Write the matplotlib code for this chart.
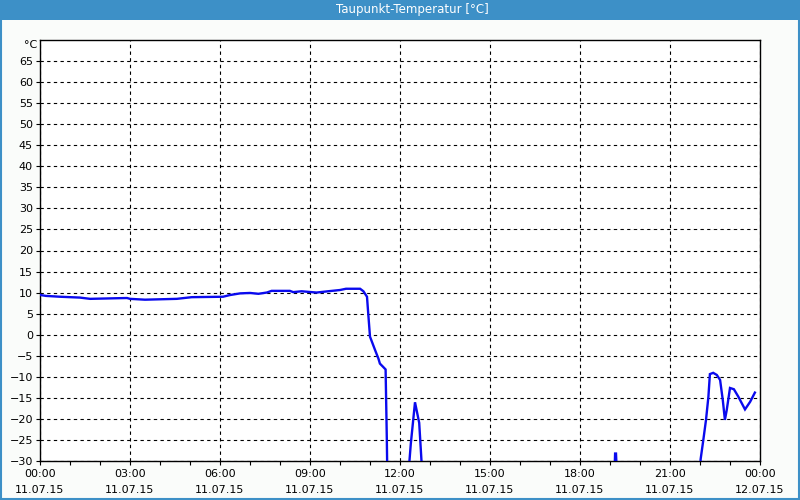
import matplotlib
matplotlib.use("Agg")
import matplotlib.pyplot as plt
from matplotlib.patches import Rectangle
import numpy as np

# ---- data (hours since 11.07.15 00:00, dew point in °C) ----
seg1_hours = [0.0, 0.02, 0.2, 0.67, 1.33, 1.67, 2.9, 3.0, 3.5, 4.56, 5.06, 6.1, 6.33, 6.67,
              7.0, 7.28, 7.56, 7.72, 8.33, 8.44, 8.72, 9.22, 9.6, 10.0, 10.2, 10.67, 10.78,
              10.9, 10.94, 11.0, 11.17, 11.28, 11.33, 11.44, 11.52, 11.56, 11.6, 12.0, 12.31,
              12.36, 12.5, 12.64, 12.72, 12.8, 15.0, 19.1, 19.17, 19.2, 19.3, 21.0, 22.0,
              22.02, 22.11, 22.2, 22.28, 22.33, 22.44, 22.56, 22.67, 22.76, 22.83, 22.89,
              23.0, 23.13, 23.28, 23.5, 23.67, 23.83]
seg1_values = [9.5, 9.4, 9.2, 9.0, 8.8, 8.5, 8.7, 8.5, 8.3, 8.5, 8.9, 9.0, 9.4, 9.8,
               9.9, 9.7, 10.0, 10.4, 10.4, 10.1, 10.3, 10.0, 10.3, 10.6, 10.9, 10.9, 10.3,
               9.0, 5.1, -0.5, -3.7, -5.7, -6.9, -7.7, -8.3, -24.6, -45, -50, -30.5,
               -26.0, -16.1, -21.0, -30.5, -45, -50, -45, -28.3, -28.3, -45, -50, -40,
               -29.7, -25.1, -20.3, -14.8, -9.4, -9.1, -9.6, -10.8, -15.6, -20.3, -18.0,
               -12.7, -13.0, -14.8, -17.8, -16.0, -13.8]

y_ticks = [-30, -25, -20, -15, -10, -5, 0, 5, 10, 15, 20, 25, 30, 35, 40, 45, 50, 55, 60, 65]
x_ticks = [0, 3, 6, 9, 12, 15, 18, 21, 24]
x_tick_labels = ["00:00\n11.07.15", "03:00\n11.07.15", "06:00\n11.07.15", "09:00\n11.07.15",
                 "12:00\n11.07.15", "15:00\n11.07.15", "18:00\n11.07.15", "21:00\n11.07.15",
                 "00:00\n12.07.15"]
x_minor = [h for h in range(25) if h % 3 != 0]
title = "Taupunkt-Temperatur [°C]"
unit = "°C"

bg = "#fafcfa"
bar = "#3d90c7"

fig = plt.figure(figsize=(8, 5), dpi=100, facecolor=bg)
# title bar and frame
fig.patches.append(Rectangle((0, 1 - 20/500), 1, 20/500, transform=fig.transFigure,
                             facecolor=bar, edgecolor="none", zorder=0))
fig.patches.append(Rectangle((1/800, 1/500), 798/800, 498/500, transform=fig.transFigure,
                             facecolor="none", edgecolor=bar, lw=1.5, zorder=0))
fig.text(412/800, 1 - 10/500, title, color="white", ha="center", va="center",
         fontsize=8.5, family="DejaVu Sans")

ax = fig.add_axes([40/800, 1 - 460.7/500, 720/800, (460.7 - 40.3)/500])
ax.set_facecolor("white")
ax.set_xlim(0, 24)
ax.set_ylim(-30, 70)

ax.plot(seg1_hours, seg1_values, color="#0a0aee", lw=1.7, zorder=3, solid_joinstyle="miter")

ax.set_yticks(y_ticks)
ax.set_xticks(x_ticks)
ax.set_xticklabels(x_tick_labels, linespacing=1.75)
ax.set_xticks(x_minor, minor=True)
ax.grid(True, which="major", color="black", linestyle=(0, (3, 3)), lw=0.8)
ax.tick_params(axis="both", which="major", labelsize=8, length=3, width=0.8, color="black",
               direction="out", pad=2)
ax.tick_params(axis="x", which="minor", length=3, width=0.8)
ax.tick_params(axis="x", which="major", pad=3)
for s in ax.spines.values():
    s.set_linewidth(1)
    s.set_color("black")
ax.text(-0.004, 70, unit, transform=ax.get_yaxis_transform(), ha="right", va="top",
        fontsize=8)

fig.savefig("out.png", dpi=100, facecolor=bg)
